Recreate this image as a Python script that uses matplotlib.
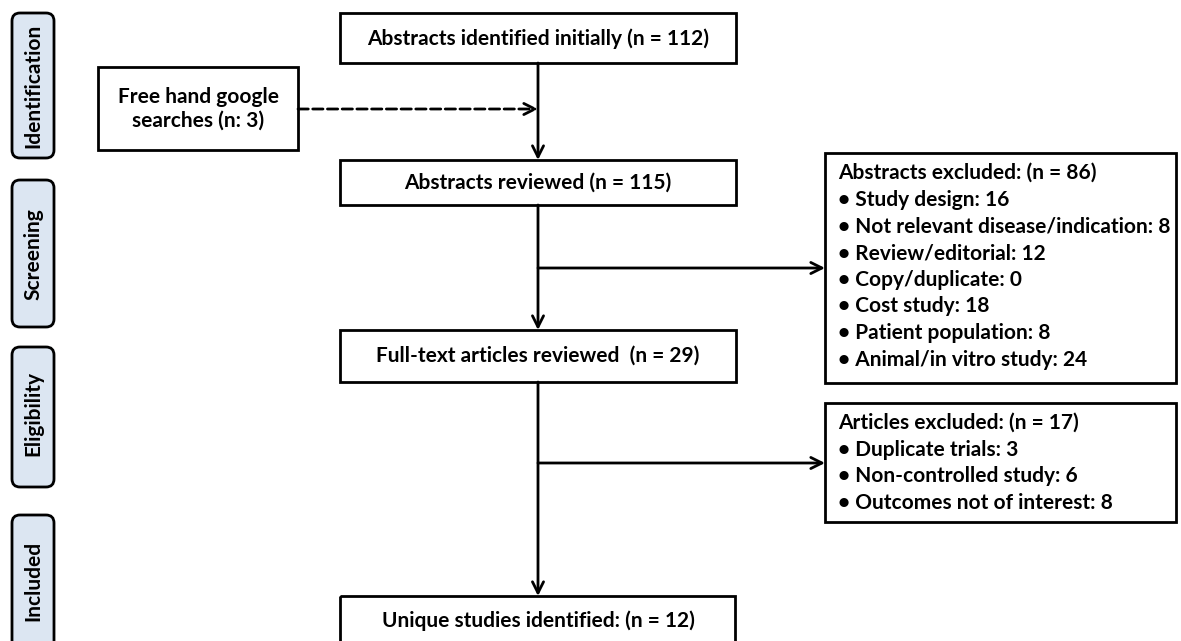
import matplotlib
matplotlib.use("Agg")
import matplotlib.pyplot as plt
from matplotlib.patches import Rectangle, FancyBboxPatch

# ---- data ----
stages = ["Identification", "Screening", "Eligibility", "Included"]
identified_n = 112
google_n = 3
reviewed_n = 115
fulltext_n = 29
unique_n = 12
abstract_excl_n = 86
abstract_excl_reasons = ["Study design", "Not relevant disease/indication", "Review/editorial",
                         "Copy/duplicate", "Cost study", "Patient population", "Animal/in vitro study"]
abstract_excl_counts = [16, 8, 12, 0, 18, 8, 24]
article_excl_n = 17
article_excl_reasons = ["Duplicate trials", "Non-controlled study", "Outcomes not of interest"]
article_excl_counts = [3, 6, 8]

W, H = 1181, 641
fig = plt.figure(figsize=(W / 100, H / 100), dpi=100)
ax = fig.add_axes([0, 0, 1, 1])
ax.set_xlim(0, W)
ax.set_ylim(H, 0)
ax.axis("off")

FONT = "Lato"
FS = 15.0
LW = 2.0

def box(x0, y0, x1, y1):
    ax.add_patch(Rectangle((x0, y0), x1 - x0, y1 - y0, fill=False, ec="black", lw=LW))

def ctext(x, y, s, fs=FS, **kw):
    ax.text(x, y, s, ha="center", va="center", fontsize=fs, fontweight="bold",
            family=FONT, color="black", **kw)

def arrow(x0, y0, x1, y1, ls="-"):
    ax.annotate("", xy=(x1, y1), xytext=(x0, y0),
                arrowprops=dict(arrowstyle="->", lw=LW, color="black", linestyle=ls,
                                shrinkA=0, shrinkB=0, mutation_scale=20))

# side stage labels
stage_spans = [(13, 158), (180, 327), (347, 487), (515, 700)]
label_y = [86, 254, 414, 581]
for name, (y0, y1), yc in zip(stages, stage_spans, label_y):
    ax.add_patch(FancyBboxPatch((12, y0), 42, y1 - y0,
                                boxstyle="round,pad=0,rounding_size=8",
                                fc="#dce6f2", ec="black", lw=LW))
    ctext(33, yc, name, fs=15, rotation=90)

cx = 538
# main boxes
box(340, 13, 736, 63)
ctext(cx, 39, f"Abstracts identified initially (n = {identified_n})")
box(98, 67, 298, 150)
ctext(198, 109, f"Free hand google\nsearches (n: {google_n})", linespacing=1.25)
box(340, 160, 736, 205)
ctext(cx, 183, f"Abstracts reviewed (n = {reviewed_n})")
box(340, 330, 736, 382)
ctext(cx, 356, f"Full-text articles reviewed  (n = {fulltext_n})")
box(340, 596, 735, 680)
ctext(cx, 621, f"Unique studies identified: (n = {unique_n})")

# arrows
arrow(cx, 63, cx, 160)
arrow(298, 109, cx, 109, ls="--")
arrow(cx, 205, cx, 330)
arrow(cx, 268, 825, 268)
arrow(cx, 382, cx, 596)
arrow(cx, 463, 825, 463)

# exclusion boxes
SP = 26.7
box(825, 153, 1176, 383)
lines1 = [f"Abstracts excluded: (n = {abstract_excl_n})"] + \
         [f"\u2022 {r}: {c}" for r, c in zip(abstract_excl_reasons, abstract_excl_counts)]
for i, s in enumerate(lines1):
    ax.text(838, 173 + i * SP, s, ha="left", va="center", fontsize=FS,
            fontweight="bold", family=FONT)

box(825, 403, 1176, 522)
lines2 = [f"Articles excluded: (n = {article_excl_n})"] + \
         [f"\u2022 {r}: {c}" for r, c in zip(article_excl_reasons, article_excl_counts)]
for i, s in enumerate(lines2):
    ax.text(838, 423 + i * SP, s, ha="left", va="center", fontsize=FS,
            fontweight="bold", family=FONT)

fig.savefig("out.png", dpi=100)
